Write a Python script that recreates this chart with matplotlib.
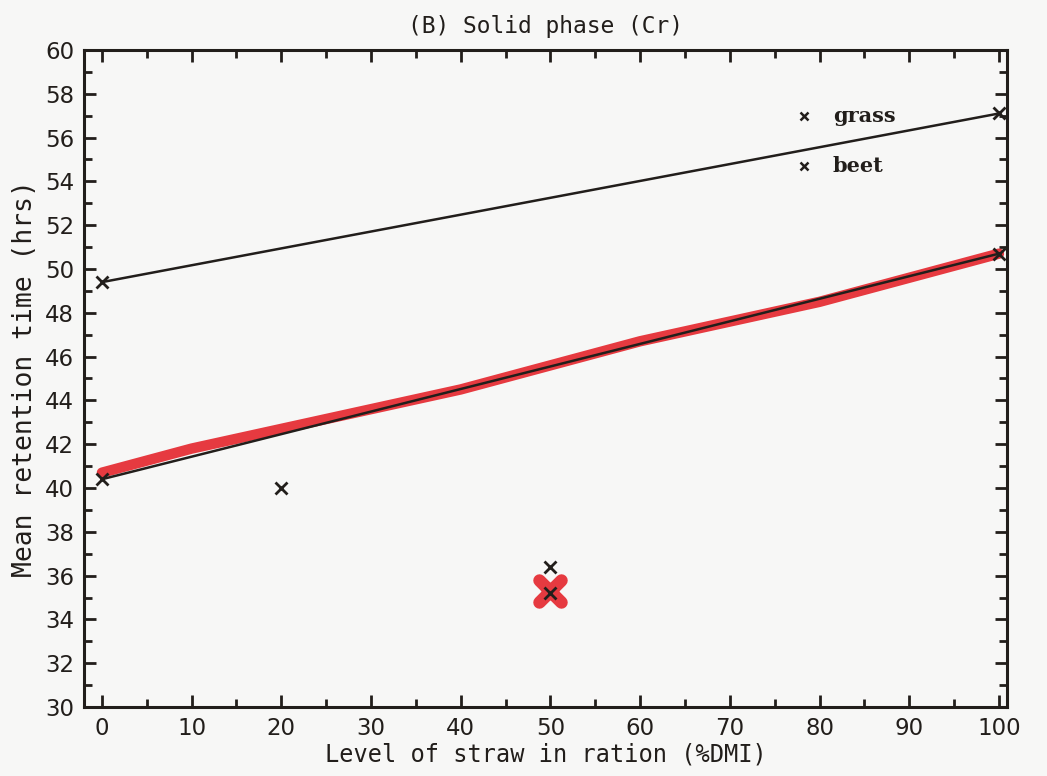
import numpy as np
import matplotlib.pyplot as plt
from matplotlib.markers import MarkerStyle
from matplotlib.ticker import MultipleLocator

# ------------------------------
# data
# ------------------------------
straw = [0, 100]
grass_fit = [49.4, 57.1]
beet_fit = [40.4, 50.7]

pts_x = [0, 100, 0, 20, 50, 50, 100]
pts_y = [49.4, 57.1, 40.4, 40.0, 36.4, 35.2, 50.7]

# red hand-drawn curve
red_x = [0, 10, 20, 30, 40, 50, 60, 70, 80, 90, 100]
red_y = [40.7, 41.8, 42.7, 43.6, 44.5, 45.6, 46.7, 47.6, 48.5, 49.6, 50.7]
red_mark = (50, 35.3)

legend_x = 78.3
legend_y = [57.0, 54.7]
legend_lab = ['grass', 'beet']

ink = '#221e1b'
red = '#e63a40'
bg = '#f7f7f6'

fig = plt.figure(figsize=(10.47, 7.76), dpi=100, facecolor=bg)
ax = fig.add_axes([0.0802, 0.0889, 0.8816, 0.8467], facecolor=bg)

ax.plot(red_x, red_y, color=red, lw=7.5, solid_capstyle='round', zorder=2)
ax.plot(straw, grass_fit, color=ink, lw=1.8, zorder=3)
ax.plot(straw, beet_fit, color=ink, lw=1.8, zorder=3)
ax.plot(*red_mark, ls='none', marker=MarkerStyle('x', capstyle='round'),
        ms=16, mew=9, color=red, zorder=2)
ax.plot(pts_x, pts_y, ls='none', marker='x', ms=8, mew=2, color=ink, zorder=4)

for y, lab in zip(legend_y, legend_lab):
    ax.plot(legend_x, y, ls='none', marker='x', ms=6, mew=1.8, color=ink)
    ax.text(legend_x + 3.2, y, lab, fontsize=15, fontweight='bold',
            family='DejaVu Serif', va='center', ha='left', color=ink)

ax.set_xlim(-2.0, 100.9)
ax.set_ylim(30, 60)
ax.xaxis.set_major_locator(MultipleLocator(10))
ax.xaxis.set_minor_locator(MultipleLocator(5))
ax.yaxis.set_major_locator(MultipleLocator(2))
ax.yaxis.set_minor_locator(MultipleLocator(1))
ax.tick_params(which='both', direction='in', top=True, right=True,
               labelsize=16.5, width=2, color=ink, labelcolor=ink)
ax.tick_params(which='major', length=8.5, pad=7)
ax.tick_params(which='minor', length=5.8)
for s in ax.spines.values():
    s.set_linewidth(2.2)
    s.set_color(ink)

ax.set_xlabel('Level of straw in ration (%DMI)', family='DejaVu Sans Mono',
              fontsize=17, labelpad=2, color=ink)
ax.set_ylabel('Mean retention time (hrs)', family='DejaVu Sans Mono',
              fontsize=19, labelpad=5, color=ink)
ax.set_title('(B) Solid phase (Cr)', family='DejaVu Sans Mono',
             fontsize=16.5, pad=12, color=ink)

plt.savefig('out.png', dpi=100, facecolor=bg)
